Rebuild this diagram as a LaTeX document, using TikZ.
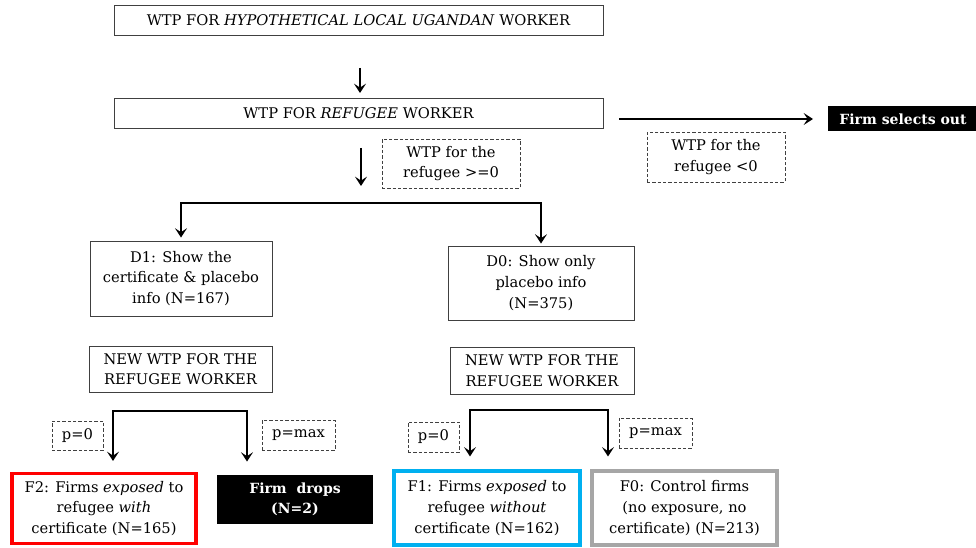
\documentclass[tikz,border=0pt]{standalone}
\usepackage{fontspec}
\setmainfont{DejaVu Serif}
\usetikzlibrary{calc, arrows.meta}

\begin{document}
\begin{tikzpicture}[x=0.75pt, y=-0.75pt,
  box/.style={draw=black!75, line width=0.7pt, align=center, inner sep=1pt,
    font=\fontsize{11}{15.5}\selectfont},
  dashbox/.style={box, line width=0.6pt, dash pattern=on 2.5pt off 1.5pt},
  blackbox/.style={box, draw=none, fill=black, text=white,
    font=\fontsize{10.5}{15}\selectfont\bfseries},
  framed/.style={box, line width=2.3pt},
  arr/.style={line width=2pt, -{Stealth[length=7pt, width=9pt, inset=3pt]}},
  twoarr/.style={line width=2pt, {Stealth[length=7pt, width=9pt, inset=3pt]}-{Stealth[length=7pt, width=9pt, inset=3pt]}}
]

% Pixel unit for sizes
\newcommand{\pxu}{0.75pt}

\useasboundingbox (0,0) rectangle (976,548);

% Top chain
\node[box, minimum width=489*\pxu, minimum height=30*\pxu] (wtplocal) at (358.5,20)
  {WTP FOR \textit{HYPOTHETICAL LOCAL UGANDAN} WORKER};
\node[box, minimum width=489*\pxu, minimum height=30*\pxu] (wtpref) at (358.5,113)
  {WTP FOR \textit{REFUGEE} WORKER};
\node[blackbox, minimum width=150*\pxu, minimum height=25*\pxu] (selout) at (903,119)
  {Firm selects out};

% Conditions
\node[dashbox, minimum width=138*\pxu, minimum height=49*\pxu] (condgeq) at (451,163.5)
  {WTP for the\\refugee >=0};
\node[dashbox, minimum width=138*\pxu, minimum height=50*\pxu] (condlt) at (716,157)
  {WTP for the\\refugee <0};

% Treatment arms
\node[box, minimum width=182*\pxu, minimum height=75*\pxu] (armD1) at (181,278.5)
  {D1: Show the\\certificate \& placebo\\info (N=167)};
\node[box, minimum width=186*\pxu, minimum height=74*\pxu] (armD0) at (541,283)
  {D0: Show only\\placebo info\\(N=375)};
\node[box, minimum width=183*\pxu, minimum height=46*\pxu] (newD1) at (180.5,369)
  {NEW WTP FOR THE\\REFUGEE WORKER};
\node[box, minimum width=184*\pxu, minimum height=47*\pxu] (newD0) at (542,370.5)
  {NEW WTP FOR THE\\REFUGEE WORKER};

% Price labels
\node[dashbox, minimum width=51*\pxu, minimum height=29*\pxu] (pzeroD1) at (77.5,435.5) {p=0};
\node[dashbox, minimum width=73*\pxu, minimum height=30*\pxu] (pmaxD1) at (298.5,435.5) {p=max};
\node[dashbox, minimum width=51*\pxu, minimum height=30*\pxu] (pzeroD0) at (433.5,437) {p=0};
\node[dashbox, minimum width=73*\pxu, minimum height=30*\pxu] (pmaxD0) at (655.5,433) {p=max};

% Final groups
\node[framed, draw=red, minimum width=184*\pxu, minimum height=70*\pxu] (grpF2) at (104,508.5)
  {F2: Firms \textit{exposed} to\\refugee \textit{with}\\certificate (N=165)};
\node[blackbox, minimum width=156*\pxu, minimum height=49*\pxu] (drops) at (295,499.5)
  {Firm~ drops\\(N=2)};
\node[framed, draw={rgb,255:red,0;green,176;blue,240}, minimum width=186*\pxu, minimum height=74*\pxu] (grpF1) at (487,508)
  {F1: Firms \textit{exposed} to\\refugee \textit{without}\\certificate (N=162)};
\node[framed, draw=black!35, minimum width=185*\pxu, minimum height=74*\pxu] (grpF0) at (684.5,508)
  {F0: Control firms\\(no exposure, no\\certificate) (N=213)};

% Connector ends
\coordinate (a1s) at (360,68);
\coordinate (a1e) at (360,93);
\coordinate (a2s) at (361,148);
\coordinate (a2e) at (361,186);
\coordinate (outs) at (619,119);
\coordinate (oute) at (813,119);
\coordinate (split) at (361,203);
\coordinate (s1l) at (113,411);
\coordinate (s1r) at (247,411);
\coordinate (s0l) at (470,410);
\coordinate (s0r) at (608,410);

\draw[arr] (a1s) -- (a1e);
\draw[arr] (a2s) -- (a2e);
\draw[arr] (outs) -- (oute);

% Split into arms
\draw[twoarr] ($(armD1.north)+(0,-3)$) -- (armD1.north |- split)
  -- (armD0.north |- split) -- ($(armD0.north)+(0,-2)$);

% Split after new WTP
\draw[twoarr] ($(s1l |- grpF2.north)+(0,-11)$) -- (s1l) -- (s1r) -- ($(s1r |- drops.north)+(0,-13)$);
\draw[twoarr] ($(s0l |- grpF1.north)+(0,-13)$) -- (s0l) -- (s0r) -- ($(s0r |- grpF0.north)+(0,-13)$);

\end{tikzpicture}
\end{document}
